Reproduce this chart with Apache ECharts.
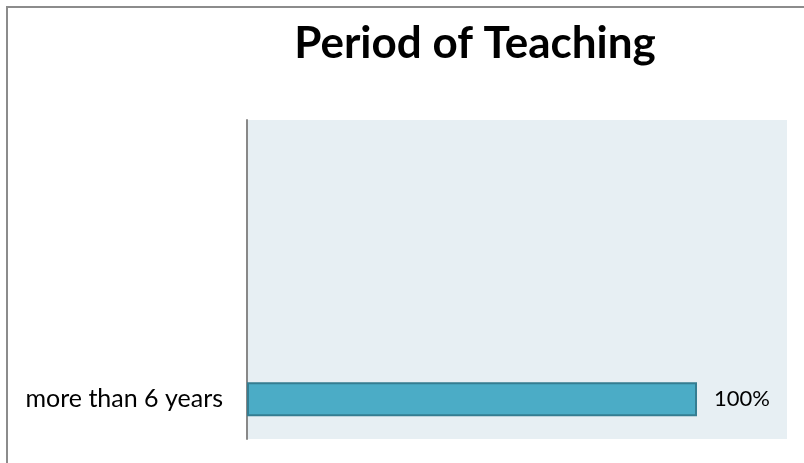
<!DOCTYPE html>
<html>
<head>
    <meta charset="utf-8">
    <script src="https://cdn.jsdelivr.net/npm/echarts@6/dist/echarts.min.js"></script>
    <style>
        html, body { margin: 0; padding: 0; background: #fff; }
    </style>
</head>
<body>
    <div id="main" style="width: 804px; height: 463px;"></div>
    <script type="text/javascript">
        // categories bottom to top (blank ones keep the bar in the lowest band)
        var periods = ['more than 6 years', '', '', '']
        var shares = [100, null, null, null]
        var titleText = 'Period of Teaching'

        var myChart = echarts.init(document.getElementById('main'))

        var option = {
            animation: false,
            title: {
                text: titleText,
                left: 470,
                top: 17,
                textAlign: 'center',
                textStyle: {
                    fontFamily: 'Lato',
                    fontWeight: 'bold',
                    fontSize: 44,
                    color: '#000'
                }
            },
            // outer frame, only top and left edges visible
            graphic: [{
                type: 'rect',
                shape: { x: 7, y: 7, width: 820, height: 480 },
                style: { fill: null, stroke: '#8c8c8c', lineWidth: 2 },
                silent: true
            }],
            grid: {
                left: 247,
                right: 17,
                top: 120,
                bottom: 24,
                show: true,
                backgroundColor: '#e7eff3',
                borderWidth: 0
            },
            xAxis: {
                type: 'value',
                min: 0,
                max: 120,
                axisLine: { show: false },
                axisTick: { show: false },
                axisLabel: { show: false },
                splitLine: { show: false }
            },
            yAxis: {
                type: 'category',
                data: periods,
                axisLine: { show: true, lineStyle: { color: '#888', width: 2 } },
                axisTick: { show: false },
                axisLabel: {
                    margin: 24,
                    fontFamily: 'Lato',
                    fontSize: 25,
                    color: '#000'
                },
                splitLine: { show: false }
            },
            series: [{
                type: 'bar',
                data: shares,
                barWidth: 34,
                itemStyle: {
                    color: '#4bacc6',
                    borderColor: '#357d91',
                    borderWidth: 2
                },
                label: {
                    show: true,
                    position: 'right',
                    distance: 17,
                    formatter: '{c}%',
                    fontFamily: 'Lato',
                    fontSize: 22,
                    color: '#000'
                }
            }]
        }
        myChart.setOption(option)
    </script>
</body>
</html>
